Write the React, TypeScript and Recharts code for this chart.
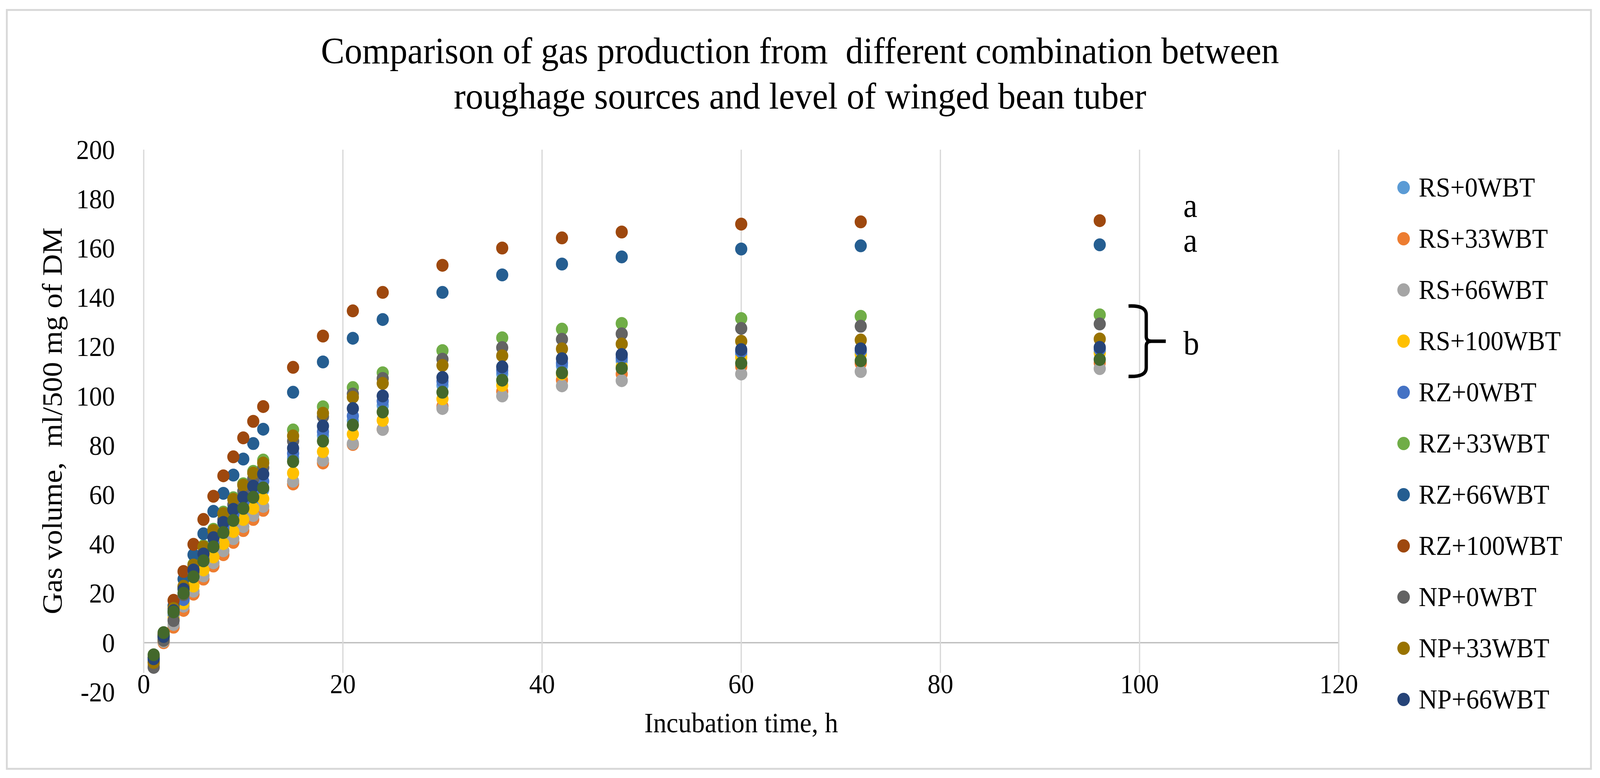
import React from 'react';
import { ScatterChart, Scatter, XAxis, YAxis, CartesianGrid, ReferenceDot, Label } from 'recharts';

// ---------- data ----------
const TIMES = [1, 2, 3, 4, 5, 6, 7, 8, 9, 10, 11, 12, 15, 18, 21, 24, 30, 36, 42, 48, 60, 72, 96];

const RS_0 = [-7.5, 1.5, 11, 17, 25, 32, 38, 43.5, 48.5, 53.5, 58, 62, 75, 84, 90, 96.2, 104.4, 109, 112.2, 114.3, 117, 117.5, 118];
const RS_33 = [-9, 0, 6.3, 13.1, 19.7, 25.8, 31.1, 35.7, 40.7, 45.5, 50, 53.7, 64.4, 72.9, 80.4, 86.6, 95.9, 101.9, 106.5, 109, 112, 113.3, 113.5];
const RS_66 = [-9, 0.5, 7.4, 14.8, 20.9, 27.1, 32.4, 37.3, 42.2, 47.1, 51.6, 55.3, 65.5, 74, 80.8, 86.5, 95, 100.1, 104.2, 106.3, 109, 110, 111.2];
const RS_100 = [-8, 1, 10, 16, 23, 29.5, 34.8, 40.2, 45.1, 50, 54.5, 58.4, 68.8, 77.5, 84.6, 90.2, 98.9, 104.4, 109, 112, 115.7, 117, 117.5];
const RZ_0 = [-7, 2, 12, 17.5, 27, 34, 40.5, 46.5, 52, 57, 61.5, 65.5, 76.8, 85.6, 92, 98, 106, 110.5, 113.5, 115.5, 118, 118.5, 119];
const RZ_33 = [-6, 3, 12.5, 22.5, 31.8, 39.3, 46, 53, 58.8, 64.5, 69.5, 74.1, 86.3, 95.7, 103.5, 109.5, 118.5, 123.7, 127.2, 129.5, 131.5, 132.4, 133];
const RZ_66 = [-6, 3, 15, 25.8, 35.7, 44.2, 53.3, 60.6, 68, 74.5, 80.8, 86.6, 101.6, 113.9, 123.5, 131.1, 142.1, 149.2, 153.6, 156.5, 159.7, 161, 161.4];
const RZ_100 = [-6, 3.5, 17.2, 28.9, 39.9, 50, 59.4, 67.7, 75.4, 83.1, 89.8, 95.8, 111.7, 124.4, 134.6, 142.1, 153.1, 160.1, 164.2, 166.6, 169.8, 170.7, 171.2];
const NP_0 = [-10, 1, 9, 19.5, 28.5, 36.5, 43, 50, 56, 61.5, 66.5, 71, 81.8, 91.7, 100.9, 107.2, 115, 119.7, 123.1, 125.3, 127.5, 128.4, 129.3];
const NP_33 = [-8, 2.5, 13.9, 22.9, 31.5, 38.9, 45.5, 52.4, 58.2, 63.9, 68.8, 72.9, 83.9, 93.1, 99.6, 105.2, 112.5, 116.4, 119.2, 121.2, 122.3, 122.8, 123.2];
const NP_66 = [-6.5, 2.5, 13, 21.7, 29.5, 36, 42.6, 48.8, 54.1, 59, 63.5, 68.4, 78.9, 87.9, 95, 100.1, 107.6, 111.9, 115.2, 116.9, 118.9, 119.2, 119.8];
const NP_100 = [-4.9, 4.1, 12.5, 20.1, 26.7, 33.2, 38.9, 44.7, 49.6, 54.5, 59, 62.8, 73.5, 81.8, 88.3, 93.6, 101.6, 106.5, 109.5, 111.3, 113.4, 114.4, 114.9];

const SERIES_NAMES = [
  'RS+0WBT', 'RS+33WBT', 'RS+66WBT', 'RS+100WBT',
  'RZ+0WBT', 'RZ+33WBT', 'RZ+66WBT', 'RZ+100WBT',
  'NP+0WBT', 'NP+33WBT', 'NP+66WBT', 'NP+100WBT',
];
const SERIES_VALUES = [RS_0, RS_33, RS_66, RS_100, RZ_0, RZ_33, RZ_66, RZ_100, NP_0, NP_33, NP_66, NP_100];
const LEGEND_COUNT = 11; // the reference legend is cut after NP+66WBT

const X_TICKS = [0, 20, 40, 60, 80, 100, 120];
const Y_TICKS = [-20, 0, 20, 40, 60, 80, 100, 120, 140, 160, 180, 200];

const TITLE_LINES = [
  'Comparison of gas production from  different combination between',
  'roughage sources and level of winged bean tuber',
];
const X_TITLE = 'Incubation time, h';
const Y_TITLE = 'Gas volume,  ml/500 mg of DM';

const LETTERS = ['a', 'a', 'b'];
const LETTER_X = [105.1, 105.1, 105.2];
const LETTER_Y = [172.7, 158.7, 117.0];
const BRACE_X = 100.67;
const BRACE_Y = 122.3;

// ---------- styles ----------
const W = 4342;
const H = 1991;
const FONT = '"Liberation Serif", "Times New Roman", serif';
const COLORS = [
  '#5B9BD5', '#ED7D31', '#A5A5A5', '#FFC000',
  '#4472C4', '#70AD47', '#255E91', '#9E480E',
  '#636363', '#997300', '#264478', '#43682B',
];

const seriesData = SERIES_VALUES.map((vals) => TIMES.map((t, i) => ({ x: t, y: vals[i] })));

const Dot = (p: any) => <circle cx={p.cx} cy={p.cy} r={16.5} fill={p.fill} />;

const XTick = (p: any) => (
  <text x={p.x} y={p.y + 2.7} textAnchor="middle" fontFamily={FONT} fontSize={70} fill="#000">
    {p.payload.value}
  </text>
);
const YTick = (p: any) => (
  <text x={p.x - 78} y={p.y + 23.7} textAnchor="end" fontFamily={FONT} fontSize={70} fill="#000">
    {p.payload.value}
  </text>
);

const XTitle = (p: any) => {
  const vb = p.viewBox || {};
  return (
    <text x={vb.x + vb.width / 2} y={vb.y + 103} textAnchor="middle" fontFamily={FONT} fontSize={72} fill="#000" style={{ whiteSpace: 'pre' }}>
      {X_TITLE}
    </text>
  );
};
const YTitle = (p: any) => {
  const vb = p.viewBox || {};
  return (
    <text
      transform={`translate(${vb.x + 168}, ${vb.y + vb.height / 2}) rotate(-90)`}
      textAnchor="middle"
      fontFamily={FONT}
      fontSize={77}
      fill="#000"
      style={{ whiteSpace: 'pre' }}
    >
      {Y_TITLE}
    </text>
  );
};

const VLine = (p: any) => (
  <line key={p.key} x1={p.x1} x2={p.x2} y1={p.y1} y2={p.y2 - 49} stroke="#d9d9d9" strokeWidth={3.5} />
);
const HLine = (p: any) => (
  <line key={p.key} x1={p.x1} x2={p.x2} y1={p.y1} y2={p.y2} stroke="#bfbfbf" strokeWidth={3.5} />
);
const zeroGen = (args: any) => {
  const { yAxis, offset } = args || {};
  if (yAxis && typeof yAxis.scale === 'function') return [yAxis.scale(0)];
  return [offset.top + (offset.height * 200) / 220];
};

const LetterShape = (text: string) => (p: any) => (
  <text x={p.cx} y={p.cy} textAnchor="middle" fontFamily={FONT} fontSize={86} fill="#000">
    {text}
  </text>
);

const BraceShape = (p: any) => {
  const { cx, cy } = p;
  if (cx == null || cy == null) return null;
  const d =
    `M ${cx - 48} ${cy - 90} Q ${cx} ${cy - 92} ${cx} ${cy - 68} L ${cx} ${cy - 12} ` +
    `Q ${cx} ${cy} ${cx + 14} ${cy} L ${cx + 53} ${cy} ` +
    `M ${cx + 14} ${cy} Q ${cx} ${cy} ${cx} ${cy + 12} L ${cx} ${cy + 68} ` +
    `Q ${cx} ${cy + 92} ${cx - 48} ${cy + 90}`;
  return <path d={d} fill="none" stroke="#000" strokeWidth={9} />;
};

function ChartLegend() {
  return (
    <div style={{ position: 'absolute', left: 3792, top: 414.5, fontFamily: FONT, fontSize: 70, color: '#000' }}>
      {SERIES_NAMES.slice(0, LEGEND_COUNT).map((name, i) => (
        <div key={name} style={{ height: 131, display: 'flex', alignItems: 'center' }}>
          <span
            style={{
              width: 34,
              height: 34,
              borderRadius: '50%',
              background: COLORS[i],
              marginRight: 24,
              flex: 'none',
              display: 'inline-block',
            }}
          />
          <span style={{ whiteSpace: 'nowrap', lineHeight: 1 }}>{name}</span>
        </div>
      ))}
    </div>
  );
}

export default function App() {
  // The design is laid out at 4342x1991; fit it to whatever viewport the page actually gets.
  const vw = typeof window !== 'undefined' && window.innerWidth ? window.innerWidth : W;
  const vh = typeof window !== 'undefined' && window.innerHeight ? window.innerHeight : H;
  const sx = Math.min(1, vw / W);
  const sy = Math.min(1, vh / H);
  return (
    <div style={{ position: 'absolute', left: 0, top: 0, width: W * sx, height: H * sy, overflow: 'hidden', background: '#fff' }}>
      <div
        style={{
          position: 'absolute',
          left: 0,
          top: 0,
          width: W,
          height: H,
          background: '#fff',
          overflow: 'hidden',
          transform: `scale(${sx}, ${sy})`,
          transformOrigin: '0 0',
        }}
      >
        <div
          style={{
            position: 'absolute',
            left: 16,
            top: 23,
            width: 4304,
            height: 1947,
            border: '5px solid #d9d9d9',
            boxSizing: 'border-box',
          }}
        />
        <svg width={W} height={H} style={{ position: 'absolute', left: 0, top: 0 }}>
          <text x={W / 2} y={162} textAnchor="middle" fontFamily={FONT} fontSize={96} fill="#000" style={{ whiteSpace: 'pre' }}>
            {TITLE_LINES[0]}
          </text>
          <text x={W / 2} y={278} textAnchor="middle" fontFamily={FONT} fontSize={96} fill="#000" style={{ whiteSpace: 'pre' }}>
            {TITLE_LINES[1]}
          </text>
        </svg>
        <div style={{ position: 'absolute', left: 0, top: 0 }}>
          <ScatterChart width={W} height={H} margin={{ top: 383, right: 709, bottom: 120, left: 0 }}>
            <CartesianGrid vertical={VLine} horizontal={HLine} horizontalCoordinatesGenerator={zeroGen} />
            <XAxis
              type="number"
              dataKey="x"
              domain={[0, 120]}
              ticks={X_TICKS}
              interval={0}
              axisLine={false}
              tickLine={false}
              tickSize={0}
              tickMargin={0}
              height={100}
              tick={XTick}
            >
              <Label content={XTitle} />
            </XAxis>
            <YAxis
              type="number"
              dataKey="y"
              domain={[-20, 200]}
              ticks={Y_TICKS}
              interval={0}
              axisLine={false}
              tickLine={false}
              tickSize={0}
              tickMargin={0}
              width={390}
              tick={YTick}
            >
              <Label content={YTitle} />
            </YAxis>
            {seriesData.map((d, i) => (
              <Scatter
                key={SERIES_NAMES[i]}
                name={SERIES_NAMES[i]}
                data={d}
                fill={COLORS[i]}
                shape={Dot}
                isAnimationActive={false}
              />
            ))}
            {LETTERS.map((t, i) => (
              <ReferenceDot key={'l' + i} x={LETTER_X[i]} y={LETTER_Y[i]} r={0} ifOverflow="visible" shape={LetterShape(t)} />
            ))}
            <ReferenceDot x={BRACE_X} y={BRACE_Y} r={0} ifOverflow="visible" shape={BraceShape} />
          </ScatterChart>
        </div>
        <ChartLegend />
      </div>
    </div>
  );
}
